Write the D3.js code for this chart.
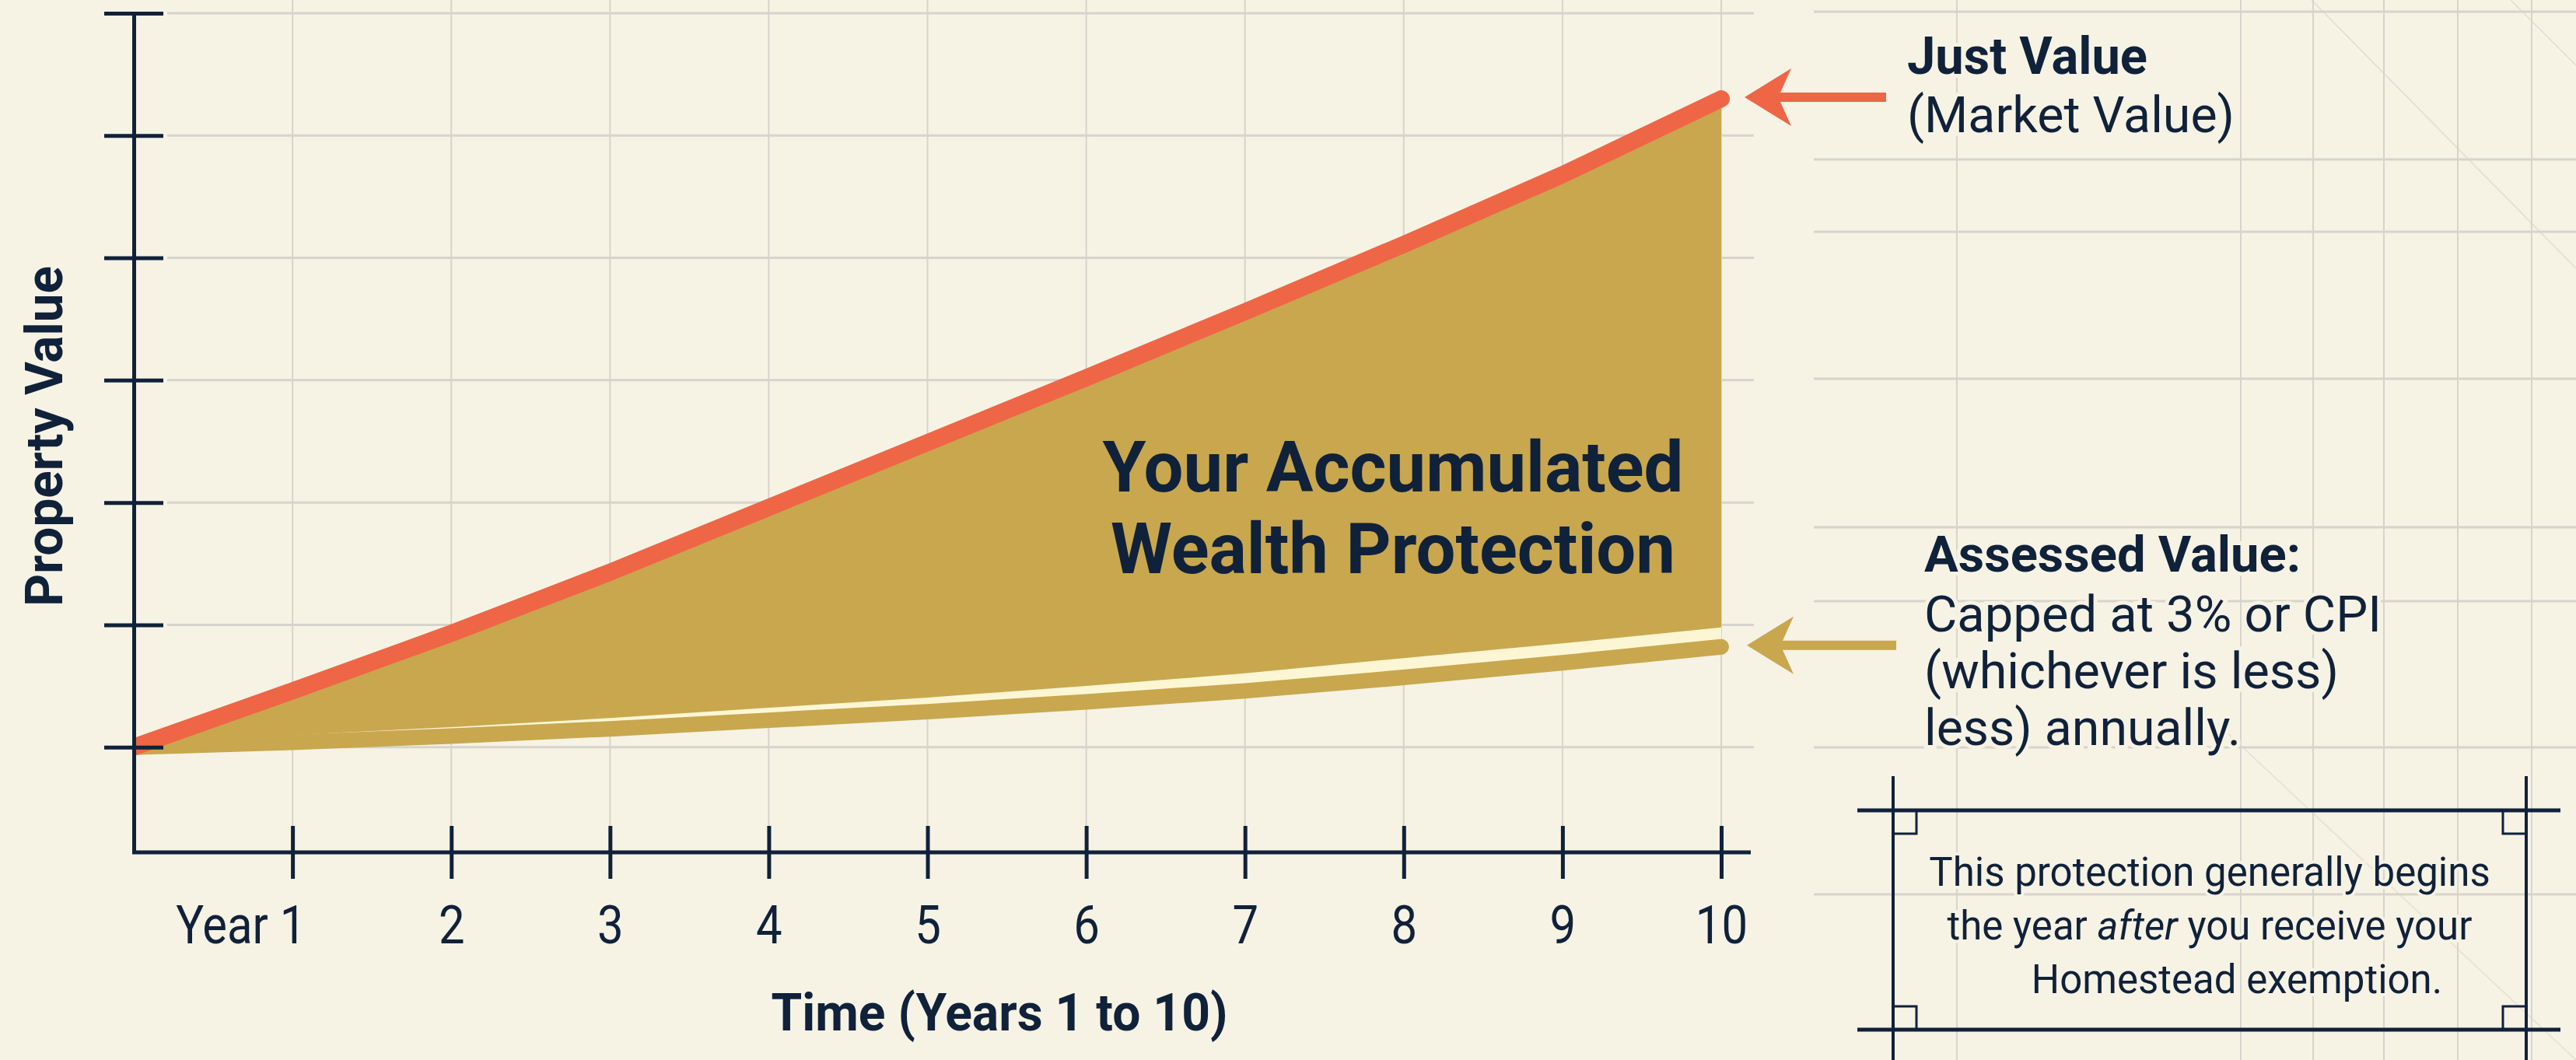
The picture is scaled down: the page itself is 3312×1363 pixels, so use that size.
<!DOCTYPE html>
<html>
<head>
<meta charset="utf-8">
<script src="https://cdn.jsdelivr.net/npm/d3@7"></script>
<style>
  html, body { margin: 0; padding: 0; background: #f6f3e5; }
  svg { display: block; }
  text { font-family: Roboto, "Noto Sans", sans-serif; fill: #10213a; }
</style>
</head>
<body>
<svg id="chart" width="3312" height="1363"></svg>
<script>
// values (property value, start = 100)
const years = [0, 1, 2, 3, 4, 5, 6, 7, 8, 9, 10];
const justValue = [100, 146, 193, 243, 296, 349, 402, 456, 511, 568, 630];
const assessedValue = [100, 104, 109, 115, 122, 129, 137, 146, 157, 169, 182];

const xTicks = [1, 2, 3, 4, 5, 6, 7, 8, 9, 10];
const xTickLabels = ['Year 1', '2', '3', '4', '5', '6', '7', '8', '9', '10'];
const yTicks = [100, 200, 300, 400, 500, 600, 700];

const assessedNote = ['Capped at 3% or CPI', '(whichever is less)', 'less) annually.'];

const NAVY = '#10213a', RED = '#ee6646', GOLD = '#c8a74e', GRID = '#d6d4cc', BG = '#f6f3e5';

const svg = d3.select('#chart');
svg.append('rect').attr('width', 3312).attr('height', 1363).attr('fill', BG);

const x = d3.scaleLinear().domain([0, 10]).range([172, 2213]);
const y = d3.scaleLinear().domain([14, 700]).range([1096, 17]);

const rows = years.map((yr, i) => ({ yr, just: justValue[i], assessed: assessedValue[i] }));

// background grid on the right side
const bg = svg.append('g').attr('stroke', GRID).attr('fill', 'none');
[15, 205, 298, 487, 678, 773, 961, 1150].forEach(gy => {
  bg.append('line').attr('x1', 2332).attr('x2', 3312).attr('y1', gy).attr('y2', gy).attr('stroke-width', 3);
});
[2516, 2881, 2974, 3065, 3160, 3255].forEach(gx => {
  bg.append('line').attr('x1', gx).attr('x2', gx).attr('y1', 0).attr('y2', 1363).attr('stroke-width', 2);
});
bg.append('line').attr('x1', 2972).attr('y1', 0).attr('x2', 3312).attr('y2', 345).attr('stroke-width', 1.5).attr('opacity', 0.7);
bg.append('line').attr('x1', 3228).attr('y1', 0).attr('x2', 3312).attr('y2', 84).attr('stroke-width', 1.5).attr('opacity', 0.7);
bg.append('line').attr('x1', 2840).attr('y1', 920).attr('x2', 3312).attr('y2', 1363).attr('stroke-width', 1.5).attr('opacity', 0.6);

// chart grid
const grid = svg.append('g').attr('stroke', GRID);
grid.selectAll('.hg').data(yTicks).join('line')
  .attr('x1', x(0) + 43).attr('x2', x(10) + 42)
  .attr('y1', d => y(d)).attr('y2', d => y(d))
  .attr('stroke-width', 3);
grid.selectAll('.vg').data(xTicks).join('line')
  .attr('x1', d => x(d)).attr('x2', d => x(d))
  .attr('y1', 0).attr('y2', y(14))
  .attr('stroke-width', 2);

// area between the two values
svg.append('clipPath').attr('id', 'plot-clip')
  .append('rect').attr('x', x(0)).attr('y', 0).attr('width', 3312).attr('height', 1363);
const plot = svg.append('g').attr('clip-path', 'url(#plot-clip)');

const area = d3.area().x(d => x(d.yr)).y0(d => y(d.assessed)).y1(d => y(d.just));
plot.append('path').datum(rows).attr('d', area).attr('fill', GOLD);

// pale stripe above the assessed line
const stripe = d3.area()
  .x(d => x(d.yr))
  .y0(d => y(d.assessed) - 9)
  .y1(d => y(d.assessed) - 9 - Math.max(0, Math.min(16, (d.yr - 0.8) * 2.2)));
plot.append('path').datum(rows).attr('d', stripe).attr('fill', '#fdf6d4');

const lineAssessed = d3.line().x(d => x(d.yr)).y(d => y(d.assessed));
plot.append('path').datum(rows).attr('d', lineAssessed)
  .attr('fill', 'none').attr('stroke', GOLD).attr('stroke-width', 20)
  .attr('stroke-linecap', 'round').attr('stroke-linejoin', 'round');

const lineJust = d3.line().x(d => x(d.yr)).y(d => y(d.just));
plot.append('path').datum(rows).attr('d', lineJust)
  .attr('fill', 'none').attr('stroke', RED).attr('stroke-width', 22)
  .attr('stroke-linecap', 'round').attr('stroke-linejoin', 'round');

// axes
const yAxis = svg.append('g').attr('transform', `translate(${x(0)},0)`)
  .call(d3.axisLeft(y).tickValues(yTicks).tickFormat('').tickSizeOuter(0));
yAxis.select('.domain').attr('stroke', NAVY).attr('stroke-width', 5);
yAxis.selectAll('.tick line').attr('x1', -38).attr('x2', 38).attr('stroke', NAVY).attr('stroke-width', 5);

const xAxis = svg.append('g').attr('transform', `translate(0,${y(14)})`)
  .call(d3.axisBottom(x).tickValues(xTicks).tickFormat((d, i) => xTickLabels[i]).tickSizeOuter(0));
xAxis.select('.domain').remove();
xAxis.append('line').attr('x1', x(0) - 2).attr('x2', x(10) + 38)
  .attr('stroke', NAVY).attr('stroke-width', 5);
xAxis.selectAll('.tick line').attr('y1', -34).attr('y2', 34).attr('stroke', NAVY).attr('stroke-width', 5);
xAxis.selectAll('.tick text')
  .attr('y', 117).attr('dy', 0)
  .attr('fill', NAVY)
  .attr('transform', 'scale(0.88,1)')
  .style('font-size', '68px')
  .style('font-family', 'Roboto, sans-serif');
// "Year 1": keep the digit under its tick
xAxis.selectAll('.tick text').filter(d => d === 1)
  .attr('text-anchor', 'end').attr('x', 19);

// axis titles
svg.append('text')
  .attr('transform', 'translate(80,561) rotate(-90)')
  .attr('text-anchor', 'middle')
  .attr('textLength', 438).attr('lengthAdjust', 'spacingAndGlyphs')
  .style('font-size', '66px').style('font-weight', 700)
  .text('Property Value');

svg.append('text')
  .attr('x', 1285).attr('y', 1325)
  .attr('text-anchor', 'middle')
  .attr('textLength', 587).attr('lengthAdjust', 'spacingAndGlyphs')
  .style('font-size', '66px').style('font-weight', 700)
  .text('Time (Years 1 to 10)');

// label inside the area
const inner = [['Your Accumulated', 632, 747], ['Wealth Protection', 737, 726]];
inner.forEach(([t, by, len]) => {
  svg.append('text')
    .attr('x', 1791).attr('y', by)
    .attr('text-anchor', 'middle')
    .attr('textLength', len).attr('lengthAdjust', 'spacingAndGlyphs')
    .style('font-size', '90px').style('font-weight', 700)
    .text(t);
});

// arrows
function arrow(tipX, tipY, len, color) {
  const p = d3.path();
  p.moveTo(tipX, tipY);
  p.lineTo(tipX + 60, tipY - 37);
  p.lineTo(tipX + 46, tipY - 6);
  p.lineTo(tipX + len, tipY - 6);
  p.lineTo(tipX + len, tipY + 6);
  p.lineTo(tipX + 46, tipY + 6);
  p.lineTo(tipX + 60, tipY + 37);
  p.closePath();
  svg.append('path').attr('d', p.toString()).attr('fill', color);
}
arrow(x(10) + 30, y(justValue[10]) - 2, 182, RED);
arrow(x(10) + 33, y(assessedValue[10]) - 2, 192, GOLD);

// right-hand notes
function note(tx, ty, str, size, weight, len) {
  svg.append('text')
    .attr('x', tx).attr('y', ty)
    .attr('textLength', len).attr('lengthAdjust', 'spacingAndGlyphs')
    .attr('stroke', BG).attr('stroke-width', 10).attr('paint-order', 'stroke')
    .style('font-size', size + 'px').style('font-weight', weight)
    .text(str);
}
note(2452, 95, 'Just Value', 66, 700, 309);
note(2452, 170, '(Market Value)', 64, 400, 421);
note(2474, 735, 'Assessed Value:', 64, 700, 484);
const noteLens = [588, 533, 407];
assessedNote.forEach((t, i) => note(2474, 812 + i * 73, t, 64, 400, noteLens[i]));

// box
const box = svg.append('g').attr('stroke', NAVY).attr('fill', 'none');
[1042, 1324].forEach(by => box.append('line').attr('x1', 2388).attr('x2', 3292).attr('y1', by).attr('y2', by).attr('stroke-width', 5));
[2434, 3248].forEach(bx => box.append('line').attr('x1', bx).attr('x2', bx).attr('y1', 998).attr('y2', 1363).attr('stroke-width', 4));
[[2434, 1042], [3218, 1042], [2434, 1294], [3218, 1294]].forEach(([cx, cy]) => {
  box.append('rect').attr('x', cx).attr('y', cy).attr('width', 30).attr('height', 30).attr('stroke-width', 3);
});

const boxText = svg.append('g')
  .style('font-size', '51px')
  .attr('stroke', BG).attr('stroke-width', 8).attr('paint-order', 'stroke');
boxText.append('text').attr('x', 2841).attr('y', 1139).attr('text-anchor', 'middle')
  .text('This protection generally begins');
const l2 = boxText.append('text').attr('x', 2841).attr('y', 1208).attr('text-anchor', 'middle');
l2.append('tspan').text('the year ');
l2.append('tspan').style('font-style', 'italic').text('after');
l2.append('tspan').text(' you receive your');
boxText.append('text').attr('x', 2876).attr('y', 1277).attr('text-anchor', 'middle')
  .text('Homestead exemption.');
</script>
</body>
</html>
